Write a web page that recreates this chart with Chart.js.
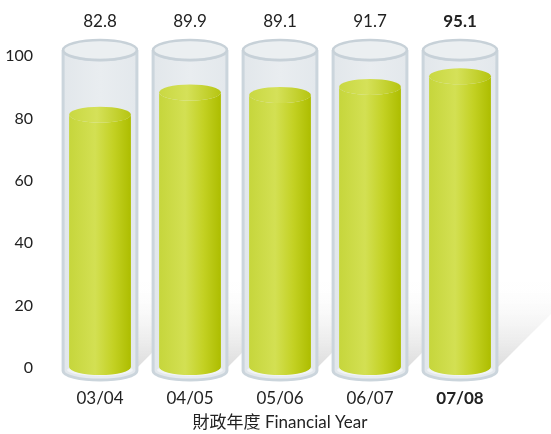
<!DOCTYPE html>
<html><head><meta charset="utf-8">
<script src="https://cdn.jsdelivr.net/npm/chart.js@4/dist/chart.umd.min.js"></script>
<style>html,body{margin:0;padding:0;background:#fff}</style>
</head><body>
<canvas id="c" width="551" height="434" style="width:551px;height:434px;display:block"></canvas>
<script>
const categories = ['03/04', '04/05', '05/06', '06/07', '07/08'];
const values = [82.8, 89.9, 89.1, 91.7, 95.1];
const highlightIndex = 4;
const yTicks = [0, 20, 40, 60, 80, 100];
const axisTitle = '財政年度 Financial Year';

const FONT = 'Lato, "Noto Sans CJK TC", sans-serif';
const TEXT = '#222';

function bodyPath(ctx, cx, rx, top, bot, ryT, ryB) {
  ctx.beginPath();
  ctx.moveTo(cx - rx, top);
  ctx.lineTo(cx - rx, bot);
  ctx.ellipse(cx, bot, rx, ryB, 0, Math.PI, 0, true);
  ctx.lineTo(cx + rx, top);
  ctx.ellipse(cx, top, rx, ryT, 0, 0, Math.PI, false);
  ctx.closePath();
}

const cylinders = {
  id: 'cylinders',
  afterDatasetsDraw(chart) {
    const ctx = chart.ctx;
    const ys = chart.scales.y;
    const meta = chart.getDatasetMeta(0);
    const y0 = ys.getPixelForValue(yTicks[0]);
    const yMax = ys.getPixelForValue(yTicks[yTicks.length - 1]);
    ctx.save();
    // shadows
    meta.data.forEach((bar) => {
      const {x, width} = bar.getProps(['x', 'width'], true);
      const r = x + width / 2;
      const by = y0 + 8;
      const L = 70, H = 100;
      const g = ctx.createLinearGradient(0, by, 0, by - H);
      g.addColorStop(0, 'rgba(200,200,200,0.75)');
      g.addColorStop(0.45, 'rgba(225,225,225,0.45)');
      g.addColorStop(1, 'rgba(255,255,255,0)');
      ctx.fillStyle = g;
      ctx.beginPath();
      ctx.moveTo(r - 8, by);
      ctx.lineTo(r - 8 + L, by - L);
      ctx.lineTo(r - 8 + L, by - H - L);
      ctx.lineTo(r - 8, by - H);
      ctx.closePath();
      ctx.fill();
    });
    meta.data.forEach((bar, i) => {
      const {x, y, width} = bar.getProps(['x', 'y', 'width'], true);
      const rx = width / 2;
      const tTop = yMax - 6, tBot = y0 + 3;
      // glass tube body
      bodyPath(ctx, x, rx, tTop, tBot, 10, 9);
      const gg = ctx.createLinearGradient(x - rx, 0, x + rx, 0);
      gg.addColorStop(0, '#e2e7eb');
      gg.addColorStop(0.5, '#e9edf0');
      gg.addColorStop(1, '#e3e8ec');
      ctx.fillStyle = gg;
      ctx.fill();
      ctx.lineWidth = 3;
      ctx.strokeStyle = '#cbd5dc';
      ctx.stroke();
      // inner lighter bottom
      ctx.beginPath();
      ctx.ellipse(x, tBot - 1, rx - 4, 6, 0, 0, Math.PI * 2);
      ctx.fillStyle = '#f1f4f6';
      ctx.fill();
      // green liquid
      const grx = rx - 6;
      const gTop = y + 5, gBot = y0 - 1;
      const lg = ctx.createLinearGradient(x - grx, 0, x + grx, 0);
      lg.addColorStop(0, '#c6d63c');
      lg.addColorStop(0.42, '#d3e053');
      lg.addColorStop(0.72, '#c3d123');
      lg.addColorStop(1, '#adbd00');
      bodyPath(ctx, x, grx, gTop, gBot, 8, 8);
      ctx.fillStyle = lg;
      ctx.fill();
      ctx.beginPath();
      ctx.ellipse(x, gTop, grx, 8, 0, 0, Math.PI * 2);
      const tg = ctx.createLinearGradient(x - grx, 0, x + grx, 0);
      tg.addColorStop(0, '#c9d842');
      tg.addColorStop(0.45, '#d5e159');
      tg.addColorStop(1, '#b6c511');
      ctx.fillStyle = tg;
      ctx.fill();
      // top rim of glass
      ctx.beginPath();
      ctx.ellipse(x, tTop, rx, 10, 0, 0, Math.PI * 2);
      ctx.fillStyle = 'rgba(233,237,240,0.9)';
      ctx.fill();
      ctx.lineWidth = 2.5;
      ctx.strokeStyle = '#c7d1d8';
      ctx.stroke();
      // value label
      ctx.fillStyle = TEXT;
      ctx.textAlign = 'center';
      ctx.textBaseline = 'middle';
      ctx.font = (i === highlightIndex ? 'bold ' : '') + '17px ' + FONT;
      ctx.fillText(String(values[i].toFixed(1)), x, yMax - 34);
    });
    ctx.restore();
  }
};

new Chart(document.getElementById('c'), {
  type: 'bar',
  data: {
    labels: categories,
    datasets: [{
      data: values,
      backgroundColor: 'rgba(0,0,0,0)',
      borderWidth: 0,
      categoryPercentage: 0.82,
      barPercentage: 1.0
    }]
  },
  options: {
    responsive: false,
    animation: false,
    events: [],
    layout: {padding: {top: 56, right: 46, left: 0, bottom: 0}},
    plugins: {legend: {display: false}, tooltip: {enabled: false}},
    scales: {
      x: {
        grid: {display: false, drawTicks: false},
        border: {display: false},
        ticks: {
          padding: 20,
          color: TEXT,
          font: (c) => ({family: FONT, size: 17, weight: c.index === highlightIndex ? 'bold' : 'normal'})
        },
        title: {display: true, text: axisTitle, color: TEXT, font: {family: FONT, size: 17}, padding: {top: 4, bottom: 1}},
        afterFit: (s) => { s.height = 66; }
      },
      y: {
        min: 0, max: 100,
        afterBuildTicks: (s) => { s.ticks = yTicks.map(v => ({value: v})); },
        grid: {display: false, drawTicks: false},
        border: {display: false},
        ticks: {padding: 22, color: TEXT, font: {family: FONT, size: 16}},
        afterFit: (s) => { s.width = 55; }
      }
    }
  },
  plugins: [cylinders]
});
</script>
</body></html>
